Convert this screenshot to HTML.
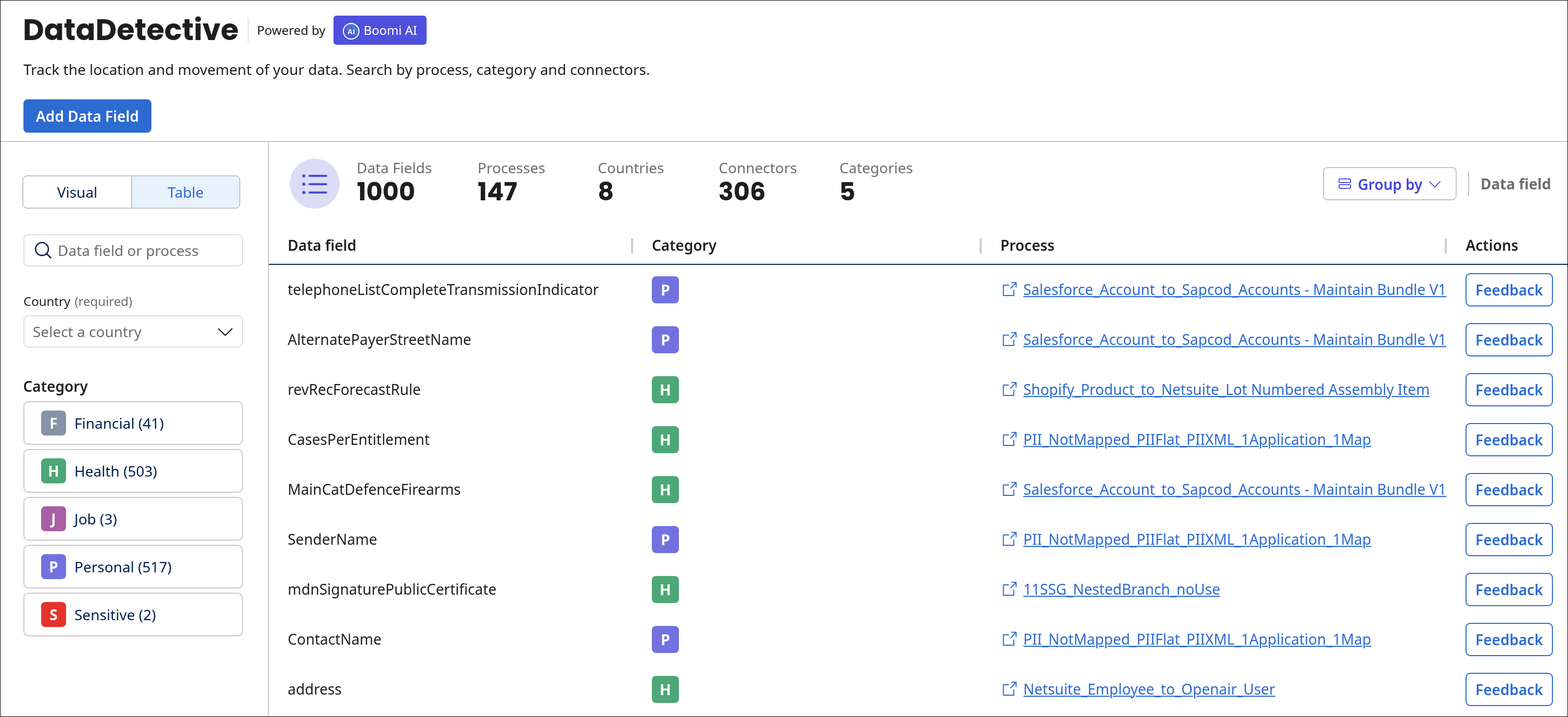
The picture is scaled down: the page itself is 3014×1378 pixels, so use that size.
<!DOCTYPE html>
<html><head><meta charset="utf-8"><title>DataDetective</title>
<style>
*{box-sizing:border-box;margin:0;padding:0}
html,body{width:3014px;height:1378px;overflow:hidden;background:#fff}
body{font-family:"Noto Sans","Liberation Sans",sans-serif;color:#1f1f1f}
#page{position:absolute;left:0;top:0;width:3014px;height:1378px;overflow:hidden;background:#fff}
#frame{position:absolute;left:0;top:0;width:3014px;height:1378px;border:1px solid #000;pointer-events:none;z-index:10}
.a{position:absolute;white-space:nowrap}
.t28{font-size:28px;line-height:40px}
#rows .t28{transform:scaleY(1.045);transform-origin:0 31px}
.t24{font-size:24px;line-height:34px}
.navy{color:#03204f}
.gray{color:#6e6e6e}
.sb{font-weight:600}
.box{position:absolute;border:2px solid #c9c9c9;border-radius:10px;background:#fff}
.badge{position:absolute;width:48px;height:48px;border-radius:8px;color:#fff;font-weight:700;font-size:28px;line-height:49px;text-align:center}
.bF{background:#8592a8}.bH{background:#4ea776}.bJ{background:#a95fa3}.bP{background:#7172e0}.bS{background:#e5332a}
.tb{position:absolute;width:52px;height:52px;border-radius:8px;color:#fff;font-weight:700;font-size:28.5px;line-height:53px;text-align:center}
.lnk{color:#2d6bd0;text-decoration:underline;text-decoration-thickness:2px;text-underline-offset:2px}
.fb{position:absolute;width:168px;height:64px;border:2px solid #2d6bd0;border-radius:9px;color:#2d6bd0;font-weight:600;font-size:28px;line-height:60px;text-align:center}
.sep{position:absolute;width:4px;height:30px;border-radius:2px;background:#cdcdcd}
@media (max-width:2000px){html{zoom:0.5}}
</style></head>
<body><div id="page">
<!-- HEADER -->
<div class="a" style="left:44px;top:24px;font-family:Poppins,'Liberation Sans',sans-serif;font-weight:700;font-size:56px;line-height:68px;color:#1e1e1e;letter-spacing:0">DataDetective</div>
<div class="a" style="left:476px;top:34px;width:2px;height:48px;background:#e2e2e2"></div>
<div class="a t24" style="left:494px;top:41px;color:#1a1a1a">Powered by</div>
<div class="a" style="left:641px;top:30px;width:179px;height:56px;border-radius:6px;background:#4f50dc"></div>
<svg class="a" style="left:659px;top:44px" width="32" height="32" viewBox="0 0 32 32">
<defs><linearGradient id="g1" x1="0.25" y1="1" x2="0.85" y2="0"><stop offset="0" stop-color="#4f50dc"/><stop offset="0.45" stop-color="#4b5fd6"/><stop offset="0.75" stop-color="#4a7ccb"/><stop offset="1" stop-color="#3fa9b0"/></linearGradient></defs>
<circle cx="16" cy="16" r="15" fill="url(#g1)" stroke="#fff" stroke-width="2"/>
<text x="8.7" y="22" font-family="Liberation Sans,Arial,sans-serif" font-weight="700" font-size="13.8" fill="#fff" letter-spacing="0.6">AI</text>
<circle cx="10" cy="11.3" r="1.2" fill="#f2764a"/>
</svg>
<div class="a t24" style="left:699px;top:41px;color:#fff">Boomi AI</div>
<div class="a t28" style="left:45px;top:113px;color:#1f1f1f">Track the location and movement of your data. Search by process, category and connectors.</div>
<div class="a" style="left:45px;top:191px;width:246px;height:64px;border-radius:8px;background:#2d6bd0;color:#fff;font-weight:600;font-size:28px;line-height:65px;text-align:center">Add Data Field</div>
<div class="a" style="left:0;top:271px;width:3014px;height:2px;background:#c8c8c8"></div>

<!-- SIDEBAR -->
<div class="a" style="left:515px;top:273px;width:2px;height:1105px;background:#c8c8c8"></div>
<div class="a" style="left:43px;top:337px;width:419px;height:64px;border:2px solid #c4c4c4;border-radius:9px;overflow:hidden">
 <div class="a" style="left:0;top:0;width:207px;height:60px;background:#fff"></div>
 <div class="a" style="left:207px;top:0;width:2px;height:60px;background:#c4c4c4"></div>
 <div class="a" style="left:209px;top:0;width:206px;height:60px;background:#e8f2fc"></div>
 <div class="a t28 navy" style="left:0;top:10px;width:207px;text-align:center">Visual</div>
 <div class="a t28" style="left:209px;top:10px;width:206px;text-align:center;color:#2d6bd0">Table</div>
</div>
<div class="a" style="left:45px;top:450px;width:422px;height:62px;border:2px solid #dedede;border-radius:9px"></div>
<svg class="a" style="left:64px;top:462px" width="40" height="40" viewBox="0 0 40 40"><circle cx="16.7" cy="16.6" r="12.3" fill="none" stroke="#0a2150" stroke-width="2.6"/><path d="M25.5 25.6 L33.5 33.6" stroke="#0a2150" stroke-width="2.8" stroke-linecap="round"/></svg>
<div class="a t28 gray" style="left:111px;top:461px">Data field or process</div>
<div class="a t24" style="left:45px;top:562px;color:#1f1f1f">Country <span class="gray" style="margin-left:2px">(required)</span></div>
<div class="a" style="left:45px;top:606px;width:422px;height:62px;border:2px solid #dedede;border-radius:9px"></div>
<div class="a t28 gray" style="left:63px;top:617px">Select a country</div>
<svg class="a" style="left:417px;top:628px" width="32" height="20" viewBox="0 0 32 20"><path d="M2.5 3.5 L16 16.5 L29.5 3.5" fill="none" stroke="#1f1f1f" stroke-width="2.3"/></svg>
<div class="a t28 sb" style="left:44.5px;top:722px;color:#1f1f1f">Category</div>

<div class="box" style="left:45px;top:771px;width:422px;height:84px"></div>
<div class="badge bF" style="left:79px;top:789px">F</div>
<div class="a t28 navy" style="left:143px;top:793px">Financial (41)</div>
<div class="box" style="left:45px;top:863px;width:422px;height:84px"></div>
<div class="badge bH" style="left:79px;top:881px">H</div>
<div class="a t28 navy" style="left:143px;top:885px">Health (503)</div>
<div class="box" style="left:45px;top:955px;width:422px;height:84px"></div>
<div class="badge bJ" style="left:79px;top:973px">J</div>
<div class="a t28 navy" style="left:143px;top:977px">Job (3)</div>
<div class="box" style="left:45px;top:1047px;width:422px;height:84px"></div>
<div class="badge bP" style="left:79px;top:1065px">P</div>
<div class="a t28 navy" style="left:143px;top:1069px">Personal (517)</div>
<div class="box" style="left:45px;top:1139px;width:422px;height:84px"></div>
<div class="badge bS" style="left:79px;top:1157px">S</div>
<div class="a t28 navy" style="left:143px;top:1161px">Sensitive (2)</div>

<!-- MAIN: stats -->
<div class="a" style="left:557px;top:305px;width:96px;height:96px;border-radius:50%;background:#dcdcf7"></div>
<svg class="a" style="left:577px;top:330px" width="56" height="46" viewBox="0 0 56 46">
<g fill="#4a4adc"><circle cx="7" cy="8" r="3.05"/><circle cx="7" cy="24" r="3.05"/><circle cx="7" cy="40" r="3.05"/></g>
<g stroke="#4a4adc" stroke-width="3.8" stroke-linecap="round"><path d="M18 8H50"/><path d="M18 24H50"/><path d="M18 40H50"/></g></svg>

<div class="a t28 gray" style="left:685.5px;top:302px">Data Fields</div>
<div class="a" style="left:686.0px;top:341px;font-family:Poppins,'Liberation Sans',sans-serif;font-weight:700;font-size:48px;line-height:56px;color:#1e1e1e">1000</div>
<div class="a t28 gray" style="left:918px;top:302px">Processes</div>
<div class="a" style="left:918.0px;top:341px;font-family:Poppins,'Liberation Sans',sans-serif;font-weight:700;font-size:48px;line-height:56px;color:#1e1e1e">147</div>
<div class="a t28 gray" style="left:1149px;top:302px">Countries</div>
<div class="a" style="left:1149.0px;top:341px;font-family:Poppins,'Liberation Sans',sans-serif;font-weight:700;font-size:48px;line-height:56px;color:#1e1e1e">8</div>
<div class="a t28 gray" style="left:1381.5px;top:302px">Connectors</div>
<div class="a" style="left:1381.0px;top:341px;font-family:Poppins,'Liberation Sans',sans-serif;font-weight:700;font-size:48px;line-height:56px;color:#1e1e1e">306</div>
<div class="a t28 gray" style="left:1613.5px;top:302px">Categories</div>
<div class="a" style="left:1613.0px;top:341px;font-family:Poppins,'Liberation Sans',sans-serif;font-weight:700;font-size:48px;line-height:56px;color:#1e1e1e">5</div>

<div class="a" style="left:2543px;top:321px;width:257px;height:64px;border:2px solid #c4c4c4;border-radius:9px"></div>
<svg class="a" style="left:2572px;top:342px" width="26" height="22" viewBox="0 0 26 22"><g fill="none" stroke="#4040d6" stroke-width="1.8"><rect x="1.9" y="1.9" width="22.1" height="7" rx="1.6"/><rect x="1.9" y="12.9" width="22.1" height="7" rx="1.6"/></g></svg>
<div class="a t28 sb" style="left:2610px;top:334px;color:#4545d8">Group by</div>
<svg class="a" style="left:2746px;top:347px" width="24" height="15" viewBox="0 0 24 15"><path d="M1.5 1.8 L12 12.3 L22.5 1.8" fill="none" stroke="#4b4bd9" stroke-width="1.9"/></svg>
<div class="a" style="left:2822px;top:329px;width:2px;height:48px;background:#c4c4c4"></div>
<div class="a t28" style="left:2846px;top:333px;font-weight:700;color:#6e6e6e">Data field</div>

<!-- TABLE header -->
<div class="a t28 sb" style="left:553px;top:450.5px">Data field</div>
<div class="sep" style="left:1213px;top:458px"></div>
<div class="a t28 sb" style="left:1253px;top:450.5px">Category</div>
<div class="sep" style="left:1883px;top:458px"></div>
<div class="a t28 sb" style="left:1923px;top:450.5px">Process</div>
<div class="sep" style="left:2777px;top:458px"></div>
<div class="a t28 sb" style="left:2817.5px;top:450.5px">Actions</div>
<div class="a" style="left:517px;top:507px;width:2496px;height:2px;background:#0f2350"></div>

<div id="rows">
<div class="a t28" style="left:553px;top:536px">telephoneListCompleteTransmissionIndicator</div>
<div class="tb bP" style="left:1253px;top:531px">P</div>
<svg class="a" style="left:1925px;top:541px" width="30" height="30" viewBox="0 0 30 30"><g fill="none" stroke="#2d6bd0" stroke-width="2" stroke-linecap="round" stroke-linejoin="round"><path d="M13.6 7.1H3.7V26.9H23.7V16.8"/><path d="M17.9 13L27.6 2.6M19.6 2.2H28.1V10.8"/></g></svg>
<div class="a t28 lnk" style="left:1967px;top:536px">Salesforce_Account_to_Sapcod_Accounts - Maintain Bundle V1</div>
<div class="fb" style="left:2817px;top:525px">Feedback</div>
<div class="a t28" style="left:553px;top:632px">AlternatePayerStreetName</div>
<div class="tb bP" style="left:1253px;top:627px">P</div>
<svg class="a" style="left:1925px;top:637px" width="30" height="30" viewBox="0 0 30 30"><g fill="none" stroke="#2d6bd0" stroke-width="2" stroke-linecap="round" stroke-linejoin="round"><path d="M13.6 7.1H3.7V26.9H23.7V16.8"/><path d="M17.9 13L27.6 2.6M19.6 2.2H28.1V10.8"/></g></svg>
<div class="a t28 lnk" style="left:1967px;top:632px">Salesforce_Account_to_Sapcod_Accounts - Maintain Bundle V1</div>
<div class="fb" style="left:2817px;top:621px">Feedback</div>
<div class="a t28" style="left:553px;top:728px">revRecForecastRule</div>
<div class="tb bH" style="left:1253px;top:723px">H</div>
<svg class="a" style="left:1925px;top:733px" width="30" height="30" viewBox="0 0 30 30"><g fill="none" stroke="#2d6bd0" stroke-width="2" stroke-linecap="round" stroke-linejoin="round"><path d="M13.6 7.1H3.7V26.9H23.7V16.8"/><path d="M17.9 13L27.6 2.6M19.6 2.2H28.1V10.8"/></g></svg>
<div class="a t28 lnk" style="left:1967px;top:728px">Shopify_Product_to_Netsuite_Lot Numbered Assembly Item</div>
<div class="fb" style="left:2817px;top:717px">Feedback</div>
<div class="a t28" style="left:553px;top:824px">CasesPerEntitlement</div>
<div class="tb bH" style="left:1253px;top:819px">H</div>
<svg class="a" style="left:1925px;top:829px" width="30" height="30" viewBox="0 0 30 30"><g fill="none" stroke="#2d6bd0" stroke-width="2" stroke-linecap="round" stroke-linejoin="round"><path d="M13.6 7.1H3.7V26.9H23.7V16.8"/><path d="M17.9 13L27.6 2.6M19.6 2.2H28.1V10.8"/></g></svg>
<div class="a t28 lnk" style="left:1967px;top:824px">PII_NotMapped_PIIFlat_PIIXML_1Application_1Map</div>
<div class="fb" style="left:2817px;top:813px">Feedback</div>
<div class="a t28" style="left:553px;top:920px">MainCatDefenceFirearms</div>
<div class="tb bH" style="left:1253px;top:915px">H</div>
<svg class="a" style="left:1925px;top:925px" width="30" height="30" viewBox="0 0 30 30"><g fill="none" stroke="#2d6bd0" stroke-width="2" stroke-linecap="round" stroke-linejoin="round"><path d="M13.6 7.1H3.7V26.9H23.7V16.8"/><path d="M17.9 13L27.6 2.6M19.6 2.2H28.1V10.8"/></g></svg>
<div class="a t28 lnk" style="left:1967px;top:920px">Salesforce_Account_to_Sapcod_Accounts - Maintain Bundle V1</div>
<div class="fb" style="left:2817px;top:909px">Feedback</div>
<div class="a t28" style="left:553px;top:1016px">SenderName</div>
<div class="tb bP" style="left:1253px;top:1011px">P</div>
<svg class="a" style="left:1925px;top:1021px" width="30" height="30" viewBox="0 0 30 30"><g fill="none" stroke="#2d6bd0" stroke-width="2" stroke-linecap="round" stroke-linejoin="round"><path d="M13.6 7.1H3.7V26.9H23.7V16.8"/><path d="M17.9 13L27.6 2.6M19.6 2.2H28.1V10.8"/></g></svg>
<div class="a t28 lnk" style="left:1967px;top:1016px">PII_NotMapped_PIIFlat_PIIXML_1Application_1Map</div>
<div class="fb" style="left:2817px;top:1005px">Feedback</div>
<div class="a t28" style="left:553px;top:1112px">mdnSignaturePublicCertificate</div>
<div class="tb bH" style="left:1253px;top:1107px">H</div>
<svg class="a" style="left:1925px;top:1117px" width="30" height="30" viewBox="0 0 30 30"><g fill="none" stroke="#2d6bd0" stroke-width="2" stroke-linecap="round" stroke-linejoin="round"><path d="M13.6 7.1H3.7V26.9H23.7V16.8"/><path d="M17.9 13L27.6 2.6M19.6 2.2H28.1V10.8"/></g></svg>
<div class="a t28 lnk" style="left:1967px;top:1112px">11SSG_NestedBranch_noUse</div>
<div class="fb" style="left:2817px;top:1101px">Feedback</div>
<div class="a t28" style="left:553px;top:1208px">ContactName</div>
<div class="tb bP" style="left:1253px;top:1203px">P</div>
<svg class="a" style="left:1925px;top:1213px" width="30" height="30" viewBox="0 0 30 30"><g fill="none" stroke="#2d6bd0" stroke-width="2" stroke-linecap="round" stroke-linejoin="round"><path d="M13.6 7.1H3.7V26.9H23.7V16.8"/><path d="M17.9 13L27.6 2.6M19.6 2.2H28.1V10.8"/></g></svg>
<div class="a t28 lnk" style="left:1967px;top:1208px">PII_NotMapped_PIIFlat_PIIXML_1Application_1Map</div>
<div class="fb" style="left:2817px;top:1197px">Feedback</div>
<div class="a t28" style="left:553px;top:1304px">address</div>
<div class="tb bH" style="left:1253px;top:1299px">H</div>
<svg class="a" style="left:1925px;top:1309px" width="30" height="30" viewBox="0 0 30 30"><g fill="none" stroke="#2d6bd0" stroke-width="2" stroke-linecap="round" stroke-linejoin="round"><path d="M13.6 7.1H3.7V26.9H23.7V16.8"/><path d="M17.9 13L27.6 2.6M19.6 2.2H28.1V10.8"/></g></svg>
<div class="a t28 lnk" style="left:1967px;top:1304px">Netsuite_Employee_to_Openair_User</div>
<div class="fb" style="left:2817px;top:1293px">Feedback</div>
</div>
<div id="frame"></div>
</div>
</body></html>
